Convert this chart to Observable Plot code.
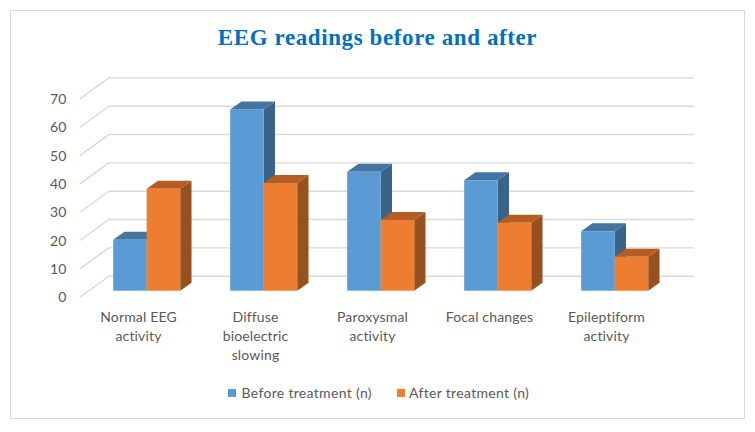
<!DOCTYPE html>
<html>
<head>
<meta charset="utf-8">
<script src="https://cdn.jsdelivr.net/npm/d3@7"></script>
<script src="https://cdn.jsdelivr.net/npm/@observablehq/plot@0.6"></script>
<style>
  html, body { margin: 0; padding: 0; background: #fff; }
  #chart { position: relative; width: 755px; height: 432px; overflow: hidden; font-family: Lato, sans-serif; }
  #border { position: absolute; left: 10px; top: 10px; width: 732.5px; height: 407px; border: 1px solid #d9d9d9; }
  #title { position: absolute; left: 0; width: 755px; top: 25px; text-align: center; font: bold 23px "Liberation Serif", serif; letter-spacing: 0.6px; color: #0070c0; }
  #plot { position: absolute; left: 0; top: 0; }
  .lg { position: absolute; top: 384px; font-size: 14px; letter-spacing: 0.32px; line-height: 17px; color: #595959; white-space: nowrap; }
  .sw { position: absolute; top: 389px; width: 8px; height: 8px; }
</style>
</head>
<body>
<div id="chart">
  <div id="border"></div>
  <div id="plot"></div>
  <div id="title">EEG readings before and after</div>
  <div class="sw" style="left:228px;background:#5b9bd5"></div>
  <div class="lg" style="left:241.5px">Before treatment (n)</div>
  <div class="sw" style="left:397px;background:#ed7d31"></div>
  <div class="lg" style="left:409px">After treatment (n)</div>
</div>
<script>
const categories = ["Normal EEG\nactivity", "Diffuse\nbioelectric\nslowing", "Paroxysmal\nactivity", "Focal changes", "Epileptiform\nactivity"];
const before = [18, 64, 42, 39, 21];
const after = [36, 38, 25, 24, 12];
const yTicks = [0, 10, 20, 30, 40, 50, 60, 70];

// depth of the 3D projection, in data units
const barW = 0.2865, depthX = 0.0966, depthY = 2.82;
const wallFrontX = -0.576, wallBackX = -0.328, wallEndX = 4.68;
const wallFrontY = -2.12, wallBackY = 5.29;

function faces(values, offset) {
  const front = values.map((v, i) => ({ x1: i + offset, x2: i + offset + barW, v }));
  const side = front.flatMap((b, id) => [
    { id, x: b.x2, y1: 0, y2: b.v },
    { id, x: b.x2 + depthX, y1: depthY, y2: b.v + depthY }
  ]);
  const top = front.flatMap((b, id) => [
    { id, y: b.v, x1: b.x1, x2: b.x2 },
    { id, y: b.v + depthY, x1: b.x1 + depthX, x2: b.x2 + depthX }
  ]);
  return { front, side, top };
}

function barMarks(values, offset, colFront, colTop, colSide) {
  const f = faces(values, offset);
  return [
    Plot.areaY(f.side, { x: "x", y1: "y1", y2: "y2", z: "id", fill: colSide }),
    Plot.areaX(f.top, { y: "y", x1: "x1", x2: "x2", z: "id", fill: colTop }),
    Plot.rect(f.front, { x1: "x1", x2: "x2", y1: 0, y2: "v", fill: colFront })
  ];
}

const chart = Plot.plot({
  width: 755,
  height: 432,
  marginLeft: 66,
  marginTop: 0,
  marginRight: 0,
  marginBottom: 124,
  style: { background: "transparent", fontFamily: "Lato, sans-serif", fontSize: "14px", letterSpacing: "0.15px", color: "#595959" },
  x: { type: "linear", domain: [-0.5, 4.5], range: [88.2, 673.2] },
  y: { type: "linear", domain: [0, 70], range: [290.7, 92.4] },
  marks: [
    Plot.ruleY(yTicks, { y: v => v + wallBackY, x1: wallBackX, x2: wallEndX, stroke: "#d9d9d9", strokeWidth: 1.4 }),
    Plot.link(yTicks, { x1: wallFrontX, x2: wallBackX, y1: v => v + wallFrontY, y2: v => v + wallBackY, stroke: "#d9d9d9", strokeWidth: 1.4 }),
    ...barMarks(before, -barW, "#5b9bd5", "#4674a0", "#3a6389"),
    ...barMarks(after, 0, "#ed7d31", "#b45c22", "#97511e"),
    Plot.axisY(yTicks, { anchor: "left", tickSize: 0, tickPadding: 0, dy: 6.5, label: null, fill: "#595959" }),
    Plot.axisX([0, 1, 2, 3, 4], {
      anchor: "bottom", tickSize: 0, tickPadding: 0, dx: -8.7, label: null,
      tickFormat: i => categories[i], lineHeight: 1.36, fill: "#595959"
    })
  ]
});
document.getElementById("plot").appendChild(chart);
</script>
</body>
</html>
